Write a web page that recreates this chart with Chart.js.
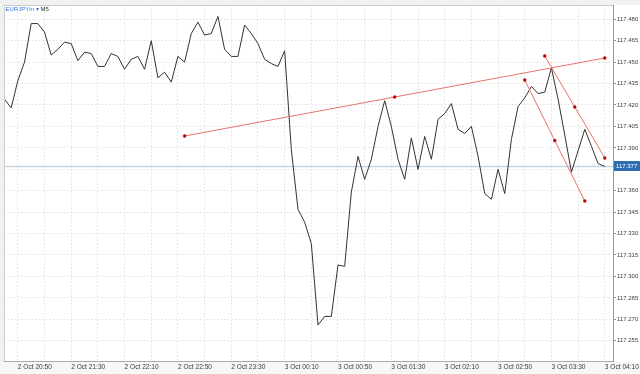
<!DOCTYPE html>
<html>
<head>
<meta charset="utf-8">
<script src="https://cdn.jsdelivr.net/npm/chart.js@4.4.1/dist/chart.umd.min.js"></script>
<style>
  html, body { margin: 0; padding: 0; background: #fff; }
  #wrap { width: 640px; height: 374px; }
</style>
</head>
<body>
<div id="wrap"><canvas id="chart"></canvas></div>
<script>
// EURJPYm M5 closes, one per bar, bar 0 = 2 Oct 20:40
const closes = [
    117.424, 117.418, 117.437, 117.450, 117.477, 117.477, 117.471, 117.455, 117.459, 117.464,
    117.463, 117.451, 117.457, 117.456, 117.447, 117.447, 117.456, 117.454, 117.445, 117.452,
    117.454, 117.445, 117.465, 117.439, 117.443, 117.436, 117.454, 117.450, 117.470, 117.478,
    117.469, 117.470, 117.482, 117.459, 117.454, 117.454, 117.476, 117.470, 117.463, 117.452,
    117.449, 117.447, 117.458, 117.389, 117.347, 117.338, 117.323, 117.266, 117.272, 117.272,
    117.308, 117.307, 117.359, 117.384, 117.368, 117.382, 117.405, 117.423, 117.405, 117.382,
    117.368, 117.397, 117.375, 117.398, 117.382, 117.410, 117.414, 117.421, 117.403, 117.400,
    117.405, 117.384, 117.358, 117.354, 117.375, 117.358, 117.396, 117.419, 117.425, 117.433,
    117.428, 117.429, 117.446, 117.424, 117.399, 117.373, 117.388, 117.403, 117.391, 117.379,
    117.377
];

const tickLabels = [
    '2 Oct 20:50', '2 Oct 21:30', '2 Oct 22:10', '2 Oct 22:50', '2 Oct 23:30', '3 Oct 00:10',
    '3 Oct 00:50', '3 Oct 01:30', '3 Oct 02:10', '3 Oct 02:50', '3 Oct 03:30', '3 Oct 04:10'
];
const LABEL_FIRST_BAR = 2;   // 20:50 is the 3rd bar
const LABEL_EVERY = 8;       // 40 min
const GRID_EVERY = 4;        // 20 min

const priceTicks = [
    117.255, 117.270, 117.285, 117.300, 117.315, 117.330, 117.345, 117.360,
    117.375, 117.390, 117.405, 117.420, 117.435, 117.450, 117.465, 117.480
];
const lastPrice = 117.377;

// drawn trend lines, [bar, price] : start, middle handle, end
const trendMain  = [[27, 117.3983], [58.5, 117.4256], [90, 117.4529]];
const trendUpper = [[81, 117.4543], [85.5, 117.4186], [90, 117.3829]];
const trendLower = [[78, 117.4375], [82.5, 117.3951], [87, 117.3528]];

const FONT = "'Liberation Sans', Arial, sans-serif";

function toXY(pts) {
    return pts.map(p => ({x: p[0], y: p[1]}));
}

function trendSet(pts) {
    return {
        data: toXY(pts),
        borderColor: '#e9736d',
        borderWidth: 1,
        pointRadius: 1.7,
        pointBorderWidth: 0,
        pointBackgroundColor: '#c40000',
        order: 0
    };
}

const background = {
    id: 'background',
    beforeDraw(chart) {
        const ctx = chart.ctx;
        const a = chart.chartArea;
        ctx.save();
        ctx.fillStyle = '#ffffff';
        ctx.fillRect(0, 0, chart.width, chart.height);
        ctx.fillStyle = '#f1f1f1';
        ctx.fillRect(0, 0, chart.width, a.top);
        ctx.fillRect(0, 0, a.left, chart.height);
        ctx.fillStyle = '#f7f7f7';
        ctx.fillRect(0, a.bottom + 1, chart.width, chart.height - a.bottom);
        ctx.restore();
    }
};

const priceLine = {
    id: 'priceLine',
    beforeDatasetsDraw(chart) {
        const ctx = chart.ctx;
        const a = chart.chartArea;
        const y = chart.scales.y.getPixelForValue(lastPrice);
        ctx.save();
        ctx.strokeStyle = '#c9d5e1';
        ctx.lineWidth = 1.5;
        ctx.beginPath();
        ctx.moveTo(a.left, y);
        ctx.lineTo(a.right, y);
        ctx.stroke();
        ctx.restore();
    }
};

const overlay = {
    id: 'overlay',
    afterDraw(chart) {
        const ctx = chart.ctx;
        const a = chart.chartArea;
        ctx.save();
        // top and left frame
        ctx.strokeStyle = '#cccccc';
        ctx.lineWidth = 1;
        ctx.beginPath();
        ctx.moveTo(a.left, a.top + 0.5);
        ctx.lineTo(a.right, a.top + 0.5);
        ctx.moveTo(a.left + 0.5, a.top);
        ctx.lineTo(a.left + 0.5, a.bottom);
        ctx.stroke();

        // last price tag
        const y = chart.scales.y.getPixelForValue(lastPrice);
        ctx.fillStyle = '#2f6db3';
        ctx.fillRect(a.right + 1, Math.round(y) - 5, chart.width - a.right - 1, 10);
        ctx.fillStyle = '#ffffff';
        ctx.font = '6px ' + FONT;
        ctx.textBaseline = 'middle';
        ctx.textAlign = 'left';
        ctx.fillText(lastPrice.toFixed(3), a.right + 3, Math.round(y));

        // symbol / timeframe
        ctx.fillStyle = '#3b7bd4';
        ctx.fillText('EURJPYm', a.left + 1.5, 9.5);
        const w = ctx.measureText('EURJPYm ').width;
        ctx.fillText('\u25BE', a.left + 1.5 + w, 9.5);
        const w2 = ctx.measureText('\u25BE ').width;
        ctx.fillStyle = '#333333';
        ctx.fillText('M5', a.left + 1.5 + w + w2, 9.5);
        ctx.restore();
    }
};

const ctx = document.getElementById('chart').getContext('2d');

const data = {
    datasets: [
        {
            label: 'EURJPYm',
            data: closes.map((c, i) => ({x: i, y: c})),
            borderColor: '#333333',
            borderWidth: 1,
            pointRadius: 0,
            tension: 0,
            order: 1
        },
        trendSet(trendMain),
        trendSet(trendUpper),
        trendSet(trendLower)
    ]
};

const config = {
    type: 'line',
    data: data,
    options: {
        responsive: true,
        maintainAspectRatio: false,
        animation: false,
        layout: {padding: {left: 4, top: 5, right: 0, bottom: 0}},
        plugins: {
            legend: {display: false},
            tooltip: {enabled: false}
        },
        scales: {
            x: {
                type: 'linear',
                min: -0.075,
                max: 91.23,
                afterBuildTicks(scale) {
                    const t = [];
                    for (let b = LABEL_FIRST_BAR; b < closes.length; b += GRID_EVERY) t.push({value: b});
                    scale.ticks = t;
                },
                afterFit(scale) {
                    scale.height = 13;
                    scale.paddingLeft = 0;
                    scale.paddingRight = 0;
                },
                ticks: {
                    align: 'start',
                    autoSkip: false,
                    maxRotation: 0,
                    padding: 2,
                    color: '#3c3c3c',
                    font: {size: 6.6, family: FONT},
                    callback(value) {
                        const k = value - LABEL_FIRST_BAR;
                        return k % LABEL_EVERY === 0 ? tickLabels[k / LABEL_EVERY] : '';
                    }
                },
                grid: {color: '#e0e0e0', lineWidth: 1, drawTicks: false},
                border: {display: true, color: '#aaaaaa', dash: [1.5, 2]}
            },
            y: {
                type: 'linear',
                position: 'right',
                min: 117.2408,
                max: 117.490,
                afterBuildTicks(scale) {
                    scale.ticks = priceTicks.map(v => ({value: v}));
                },
                afterFit(scale) {
                    scale.width = 27;
                    scale.paddingTop = 0;
                    scale.paddingBottom = 0;
                },
                ticks: {
                    padding: 1,
                    color: '#3c3c3c',
                    font: {size: 6, family: FONT},
                    callback(value) {
                        return Math.abs(value - 117.375) < 1e-6 ? '' : value.toFixed(3);
                    }
                },
                grid: {color: '#e0e0e0', lineWidth: 1, tickLength: 3, tickColor: '#999999'},
                border: {display: true, color: '#999999', dash: [1.5, 2]}
            }
        }
    },
    plugins: [background, priceLine, overlay]
};

window.chart = new Chart(ctx, config);
</script>
</body>
</html>
